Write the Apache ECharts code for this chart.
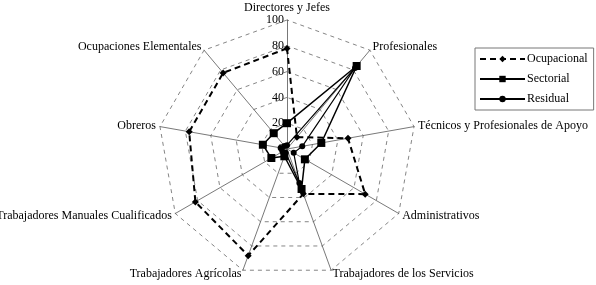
<!DOCTYPE html>
<html>
<head>
<meta charset="utf-8">
<script src="https://cdn.jsdelivr.net/npm/echarts@6/dist/echarts.min.js"></script>
<style>
html,body{margin:0;padding:0;background:#fff;}
#chart{width:596px;height:285px;}
</style>
</head>
<body>
<div id="chart"></div>
<script>
// Categories in clockwise order starting from the top
var categories = ['Directores y Jefes', 'Profesionales', 'Técnicos y Profesionales de Apoyo', 'Administrativos',
  'Trabajadores de los Servicios', 'Trabajadores Agrícolas', 'Trabajadores Manuales Cualificados', 'Obreros', 'Ocupaciones Elementales'];
var ocupacional = [78, 12, 48, 70, 37, 88, 82, 77, 77];
var sectorial   = [20, 84, 27, 16, 33, 6, 14, 19, 16];
var residual    = [3, 82, 12, 6, 28, 3, 4, 5, 3];
var seriesNames = ['Ocupacional', 'Sectorial', 'Residual'];
var axisMax = 100;

// ECharts radar runs counter-clockwise; reorder so that the picture runs clockwise
function ccw(arr) { return [arr[0]].concat(arr.slice(1).reverse()); }

var FONT = '"Liberation Serif", "DejaVu Serif", serif';
var cats = ccw(categories);
var indicator = cats.map(function (c, i) {
  var o = { name: c, min: 0, max: axisMax };
  if (i === 0) {
    o.axisLabel = { show: true, color: '#000', fontFamily: FONT, fontSize: 12, margin: 3 };
  }
  return o;
});

var styles = [
  { type: [6, 4], width: 2, symbol: 'diamond', size: 7 },
  { type: 'solid', width: 1.5, symbol: 'rect', size: 8 },
  { type: 'solid', width: 1.2, symbol: 'circle', size: 6 }
];
var values = [ocupacional, sectorial, residual];

var series = [];
// legend-only line series (empty) so that the legend shows line + marker icons
seriesNames.forEach(function (n, i) {
  series.push({
    type: 'line', name: n, data: [], xAxisIndex: 0, yAxisIndex: 0,
    symbol: styles[i].symbol, symbolSize: styles[i].size,
    itemStyle: { color: '#000' },
    lineStyle: { color: '#000', width: styles[i].width, type: styles[i].type }
  });
});
seriesNames.forEach(function (n, i) {
  series.push({
    type: 'radar', name: n, z: 3 - i,
    symbol: styles[i].symbol, symbolSize: styles[i].size,
    itemStyle: { color: '#000' },
    lineStyle: { color: '#000', width: styles[i].width, type: styles[i].type },
    data: [{ name: n, value: ccw(values[i]) }]
  });
});

var chart = echarts.init(document.getElementById('chart'), null, { renderer: 'canvas' });
chart.setOption({
  animation: false,
  backgroundColor: '#fff',
  grid: { show: false, left: 0, top: 0, width: 1, height: 1 },
  xAxis: { show: false, type: 'value' },
  yAxis: { show: false, type: 'value' },
  legend: {
    data: seriesNames,
    orient: 'vertical',
    left: 475, top: 48,
    itemWidth: 45, itemHeight: 8, itemGap: 8,
    borderColor: '#777', borderWidth: 1, padding: [5, 6, 5, 4],
    textStyle: { color: '#000', fontFamily: FONT, fontSize: 12, padding: [0, 0, 0, -3] }
  },
  radar: {
    center: [287, 149],
    radius: 129,
    startAngle: 90,
    splitNumber: 5,
    shape: 'polygon',
    indicator: indicator,
    axisName: { color: '#000', fontFamily: FONT, fontSize: 12 },
    nameGap: 4,
    axisLine: { lineStyle: { color: '#555', width: 0.8 } },
    splitLine: { lineStyle: { color: '#666', width: 0.8, type: [4, 4] } },
    splitArea: { show: false },
    axisTick: { show: false }
  },
  series: series
});
</script>
</body>
</html>
